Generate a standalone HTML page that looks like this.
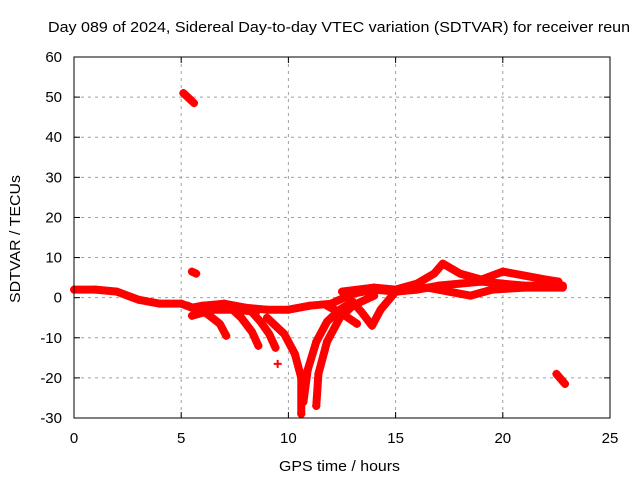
<!DOCTYPE html>
<html><head><meta charset="utf-8"><style>
body{margin:0;background:#fff}
svg{display:block;font-family:"Liberation Sans",sans-serif}
</style></head><body>
<svg id="chart" width="640" height="480">
<rect width="640" height="480" fill="#fff"/>
<text x="48" y="32" font-size="15" textLength="582" lengthAdjust="spacingAndGlyphs">Day 089 of 2024, Sidereal Day-to-day VTEC variation (SDTVAR) for receiver reun</text>
<g id="grid"></g>
<g id="ticks"></g>
<g id="series"></g>
<rect x="74" y="57" width="536" height="361" fill="none" stroke="#000" stroke-width="1"/>
<text x="279" y="471" font-size="15" textLength="121" lengthAdjust="spacingAndGlyphs">GPS time / hours</text>
<text x="0" y="0" font-size="15" textLength="128" lengthAdjust="spacingAndGlyphs" transform="translate(20 303) rotate(-90)">SDTVAR / TECUs</text>
</svg>
<script>
const xTicks=[0,5,10,15,20,25];
const yTicks=[-30,-20,-10,0,10,20,30,40,50,60];
const trackMain=[[0,2],[1,2],[2,1.5],[3,-0.5],[4,-1.5],[5,-1.5],[5.5,-2.5],[6,-2],[7,-1.5],[8,-2.5],[9,-3],[10,-3],[11,-2],[12,-1.5],[13,1],[14,2],[15,1.5],[16,2],[17,3],[18,3.5],[19,4],[20,3.5],[21,3],[22,3],[22.8,3]];
const trackHigh=[[5.1,51],[5.6,48.5]];
const trackIso=[[5.5,6.5],[5.7,6]];
const trackB1=[[5.3,-2],[6.2,-4],[6.8,-6.5],[7.1,-9.5]];
const trackMid=[[5.5,-4.5],[6.5,-3],[7.5,-3],[8.5,-3.5]];
const trackB2=[[7.3,-2.5],[7.8,-5],[8.3,-8.5],[8.6,-12]];
const trackB3=[[8.2,-3],[8.7,-6],[9.1,-9],[9.4,-12.5]];
const trackIso2=[[9.5,-16.5]];
const trackV1=[[9,-5],[9.8,-9],[10.3,-14],[10.6,-20],[10.6,-29]];
const trackV2=[[10.7,-26],[10.9,-18],[11.3,-11],[11.8,-6],[12.4,-3],[13,-1]];
const trackV3=[[11.3,-27],[11.4,-19],[11.8,-11],[12.4,-5],[13,-2],[14,0.5]];
const trackB4=[[11.8,-2],[12.5,-4],[13.2,-6.5]];
const trackV4=[[12.8,0],[13.4,-3.5],[13.9,-7],[14.3,-3],[15,1.5]];
const trackUpper=[[12.5,1.5],[14,2.5],[15,2],[16,3.5],[16.8,6],[17.2,8.5],[18,6],[19,4.5],[20,6.5],[21,5.5],[22,4.5],[22.6,4]];
const trackLower=[[15,1.5],[16.5,2.5],[17.5,1.5],[18.5,0.5],[19.5,2],[21,2.5],[22.8,2.5]];
const trackLate=[[22.5,-19],[22.9,-21.5]];
const tracks=[trackMain,trackHigh,trackIso,trackB1,trackMid,trackB2,trackB3,trackIso2,trackV1,trackV2,trackV3,trackB4,trackV4,trackUpper,trackLower,trackLate];

const X=t=>74+t*536/25;
const Y=v=>418-(v+30)*361/90;
const NS="http://www.w3.org/2000/svg";
const grid=document.getElementById('grid'),ticks=document.getElementById('ticks'),ser=document.getElementById('series');
function mk(tag,attrs,parent){const e=document.createElementNS(NS,tag);for(const k in attrs)e.setAttribute(k,attrs[k]);parent.appendChild(e);return e;}
xTicks.forEach(t=>{
  const x=X(t);
  if(t>0&&t<25){const g=mk('line',{x1:x,x2:x,y1:57,y2:418,stroke:'#a0a0a0','stroke-dasharray':'3,4'},grid);
  
  }
  mk('line',{x1:x,x2:x,y1:418,y2:412,stroke:'#000'},ticks);
  mk('line',{x1:x,x2:x,y1:57,y2:63,stroke:'#000'},ticks);
  const l=mk('text',{x:x,y:443,'font-size':15,'text-anchor':'middle'},ticks);l.textContent=t;
  
  
});
yTicks.forEach(v=>{
  const y=Y(v);
  if(v>-30&&v<60){const g=mk('line',{x1:74,x2:610,y1:y,y2:y,stroke:'#a0a0a0','stroke-dasharray':'3,4'},grid);
  
  }
  mk('line',{x1:74,x2:80,y1:y,y2:y,stroke:'#000'},ticks);
  mk('line',{x1:610,x2:604,y1:y,y2:y,stroke:'#000'},ticks);
  const l=mk('text',{x:62,y:y+5,'font-size':15,'text-anchor':'end'},ticks);l.textContent=v;
  
  
});
tracks.forEach(tr=>{
  if(tr.length>1){
    const p=mk('polyline',{points:tr.map(d=>X(d[0])+','+Y(d[1])).join(' '),fill:'none',stroke:'#f00','stroke-width':8,'stroke-linejoin':'round','stroke-linecap':'round'},ser);
    
    
  }
  tr.forEach(d=>{
    const x=X(d[0]),y=Y(d[1]);
    const m=mk('path',{d:`M${x-4},${y}H${x+4}M${x},${y-4}V${y+4}`,stroke:'#f00','stroke-width':2},ser);
    
    
  });
});
</script>
</body></html>
